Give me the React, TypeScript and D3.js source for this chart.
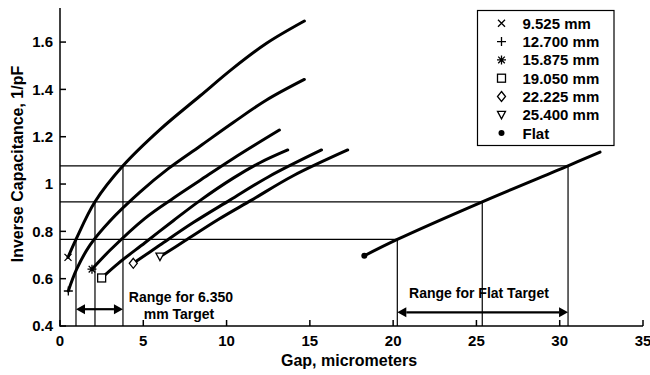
import * as d3 from "d3";

// axis ticks
const xTicks = [0, 5, 10, 15, 20, 25, 30, 35];
const yTicks = [0.4, 0.6, 0.8, 1, 1.2, 1.4, 1.6];

// series, [gap um, inverse capacitance 1/pF]
const s9525 = [[0.48, 0.69], [0.96, 0.766], [2.1, 0.925], [3.78, 1.077], [6.0, 1.23], [8.4, 1.372], [10.4, 1.49], [12.4, 1.595], [14.67, 1.689]];
const s12700 = [[0.5, 0.548], [1.0, 0.64], [1.8, 0.742], [3.0, 0.844], [4.8, 0.966], [6.5, 1.065], [8.4, 1.16], [10.4, 1.26], [12.4, 1.355], [14.67, 1.442]];
const s15875 = [[1.92, 0.64], [3.0, 0.72], [5.1, 0.855], [6.8, 0.94], [8.4, 1.015], [10.4, 1.108], [13.17, 1.228]];
const s19050 = [[2.5, 0.603], [3.5, 0.665], [5.1, 0.752], [6.8, 0.845], [8.4, 0.93], [10.4, 1.025], [12.0, 1.09], [13.67, 1.144]];
const s22225 = [[4.4, 0.665], [6.0, 0.742], [8.0, 0.837], [10.2, 0.932], [12.5, 1.03], [15.7, 1.144]];
const s25400 = [[6.0, 0.693], [7.5, 0.76], [9.5, 0.85], [11.5, 0.932], [14.0, 1.035], [17.27, 1.144]];
const sFlat = [[18.27, 0.697], [20.25, 0.766], [25.35, 0.925], [30.5, 1.077], [32.42, 1.135]];

const seriesList = [s9525, s12700, s15875, s19050, s22225, s25400, sFlat];
const legendLabels = ["9.525 mm", "12.700 mm", "15.875 mm", "19.050 mm", "22.225 mm", "25.400 mm", "Flat"];
const markerKinds = ["cross", "plus", "star", "square", "diamond", "triangle", "dot"];

// target levels and where they meet the 9.525 and flat curves
const levels = [0.766, 0.925, 1.077];
const targetGaps = [0.96, 2.1, 3.78];
const flatGaps = [20.25, 25.35, 30.5];

const W = 650;
const H = 375;
const FONT = "'Liberation Sans', Arial, Helvetica, sans-serif";

const x = d3.scaleLinear().domain([0, 35]).range([60, 643]);
const y = d3.scaleLinear().domain([0.4, 1.744]).range([326, 8]);

const line = d3
  .line<number[]>()
  .x((d) => x(d[0]))
  .y((d) => y(d[1]))
  .curve(d3.curveCatmullRom.alpha(0.5));

function Marker({ kind, cx, cy }) {
  const sw = 1.3;
  if (kind === "cross")
    return <path d={`M${cx - 3.5},${cy - 3.5}L${cx + 3.5},${cy + 3.5}M${cx - 3.5},${cy + 3.5}L${cx + 3.5},${cy - 3.5}`} stroke="#000" strokeWidth={sw} />;
  if (kind === "plus")
    return <path d={`M${cx - 4.5},${cy}L${cx + 4.5},${cy}M${cx},${cy - 4.5}L${cx},${cy + 4.5}`} stroke="#000" strokeWidth={sw} />;
  if (kind === "star")
    return (
      <path
        d={`M${cx - 4.5},${cy}L${cx + 4.5},${cy}M${cx},${cy - 4.5}L${cx},${cy + 4.5}M${cx - 3.3},${cy - 3.3}L${cx + 3.3},${cy + 3.3}M${cx - 3.3},${cy + 3.3}L${cx + 3.3},${cy - 3.3}`}
        stroke="#000"
        strokeWidth={sw}
      />
    );
  if (kind === "square")
    return <rect x={cx - 4} y={cy - 4} width={8} height={8} fill="#fff" stroke="#000" strokeWidth={sw} />;
  if (kind === "diamond")
    return <path d={`M${cx},${cy - 5}L${cx + 4},${cy}L${cx},${cy + 5}L${cx - 4},${cy}Z`} fill="#fff" stroke="#000" strokeWidth={sw} />;
  if (kind === "triangle")
    return <path d={`M${cx - 4},${cy - 3.5}L${cx + 4},${cy - 3.5}L${cx},${cy + 4}Z`} fill="#fff" stroke="#000" strokeWidth={sw} />;
  return <circle cx={cx} cy={cy} r={3} fill="#000" />;
}

function Arrow({ x0, x1, yy }) {
  const L = 9;
  const h = 5;
  return (
    <g>
      <line x1={x0 + L} x2={x1 - L} y1={yy} y2={yy} stroke="#000" strokeWidth={2.2} />
      <path d={`M${x0},${yy}L${x0 + L},${yy - h}L${x0 + L},${yy + h}Z`} fill="#000" />
      <path d={`M${x1},${yy}L${x1 - L},${yy - h}L${x1 - L},${yy + h}Z`} fill="#000" />
    </g>
  );
}

export default function App() {
  const y0 = y(0.4);
  return (
    <svg
      width={W}
      height={H}
      style={{ position: "absolute", left: 0, top: 0, background: "#fff" }}
      fontFamily={FONT}
    >
      <rect width={W} height={H} fill="#fff" />

      {/* target reference lines */}
      {levels.map((lv, i) => (
        <g key={"ref" + i} stroke="#000" strokeWidth={1.2}>
          <line x1={x(0)} x2={x(flatGaps[i])} y1={y(lv)} y2={y(lv)} />
          <line x1={x(targetGaps[i])} x2={x(targetGaps[i])} y1={y0} y2={y(lv)} />
          <line x1={x(flatGaps[i])} x2={x(flatGaps[i])} y1={y0} y2={y(lv)} />
        </g>
      ))}

      {/* curves */}
      {seriesList.map((s, i) => (
        <path key={"c" + i} d={line(s) || ""} fill="none" stroke="#000" strokeWidth={3} strokeLinecap="round" strokeLinejoin="round" />
      ))}
      {seriesList.map((s, i) => (
        <Marker key={"m" + i} kind={markerKinds[i]} cx={x(s[0][0])} cy={y(s[0][1])} />
      ))}

      {/* range arrows */}
      <Arrow x0={x(targetGaps[0])} x1={x(targetGaps[2])} yy={y(0.471)} />
      <Arrow x0={x(flatGaps[0])} x1={x(flatGaps[2])} yy={y(0.458)} />
      <g fontSize={14} fontWeight="bold" textAnchor="middle" fill="#000">
        <text x={181} y={302}>Range for 6.350</text>
        <text x={179} y={319}>mm Target</text>
        <text x={479} y={298}>Range for Flat Target</text>
      </g>

      {/* axes */}
      <g stroke="#000" strokeWidth={1.5}>
        <line x1={x(0)} x2={x(0)} y1={8} y2={y0 + 0.75} />
        <line x1={x(0)} x2={x(35)} y1={y0} y2={y0} />
        {xTicks.map((t) => (
          <line key={"xt" + t} x1={x(t)} x2={x(t)} y1={y0} y2={y0 - 6} />
        ))}
        {yTicks.map((t) => (
          <line key={"yt" + t} x1={x(0)} x2={x(0) + 6} y1={y(t)} y2={y(t)} />
        ))}
      </g>
      <g fontSize={15} fontWeight="bold" fill="#000">
        {xTicks.map((t) => (
          <text key={"xl" + t} x={x(t)} y={346} textAnchor="middle">
            {t}
          </text>
        ))}
        {yTicks.map((t) => (
          <text key={"yl" + t} x={53} y={y(t)} dy="0.36em" textAnchor="end">
            {String(t)}
          </text>
        ))}
      </g>
      <text x={349} y={366} fontSize={16} fontWeight="bold" textAnchor="middle">
        Gap, micrometers
      </text>
      <text
        transform={`translate(23,164) rotate(-90)`}
        fontSize={16}
        fontWeight="bold"
        textAnchor="middle"
      >
        Inverse Capacitance, 1/pF
      </text>

      {/* legend */}
      <rect x={477.5} y={10.5} width={136.5} height={135} fill="#fff" stroke="#000" strokeWidth={1.2} />
      {legendLabels.map((lab, i) => {
        const ly = 23.3 + i * 18.3;
        return (
          <g key={"lg" + i}>
            <Marker kind={markerKinds[i]} cx={501.5} cy={ly} />
            <text x={522.5} y={ly} dy="0.36em" fontSize={15} fontWeight="bold">
              {lab}
            </text>
          </g>
        );
      })}
    </svg>
  );
}
